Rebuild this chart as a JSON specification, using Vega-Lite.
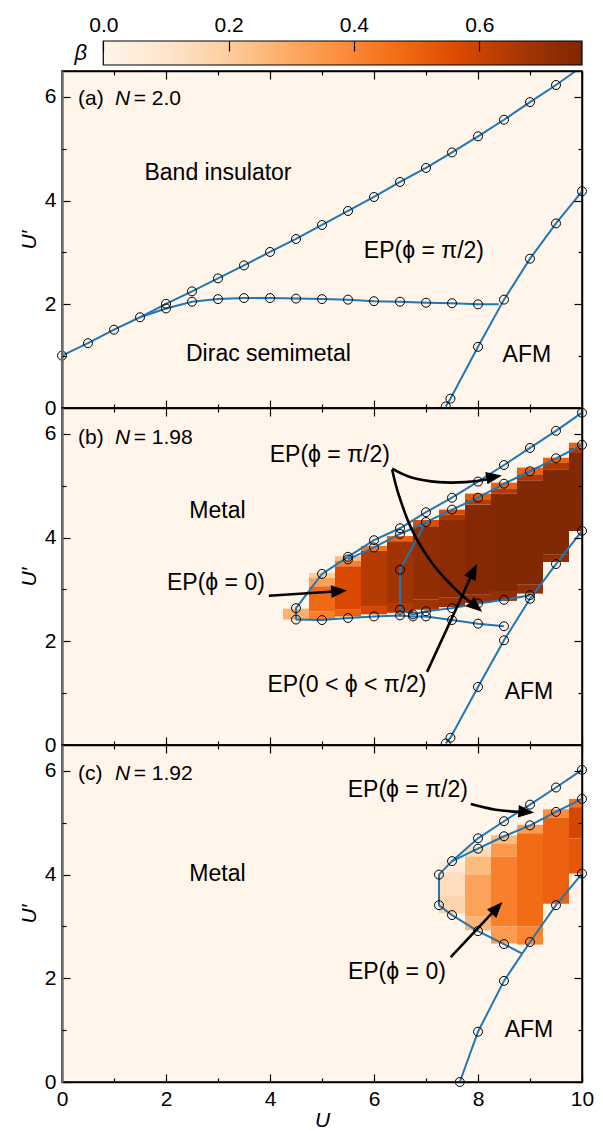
{
"$schema":"https://vega.github.io/schema/vega-lite/v6.json",
"padding":{"left":17,"top":14,"right":5,"bottom":0},
"background":"white",
"config":{"font":"Liberation Sans","text":{"color":"#000"}},
"datasets":{
"cbar":[{"lo":0,"hi":0.764,"b":0,"t":1}],
"cbarLabel":[{"t":"β","x":-0.036,"y":0.5}],
"lines":[
{"p":"a","s":"a1","k":0,"u":0,"v":1.01,"m":1},{"p":"a","s":"a1","k":1,"u":0.5,"v":1.25,"m":1},{"p":"a","s":"a1","k":2,"u":1,"v":1.51,"m":1},{"p":"a","s":"a1","k":3,"u":1.5,"v":1.75,"m":1},{"p":"a","s":"a1","k":4,"u":2,"v":2.01,"m":1},{"p":"a","s":"a1","k":5,"u":2.5,"v":2.25,"m":1},{"p":"a","s":"a1","k":6,"u":3,"v":2.5,"m":1},{"p":"a","s":"a1","k":7,"u":3.5,"v":2.75,"m":1},{"p":"a","s":"a1","k":8,"u":4,"v":3.01,"m":1},{"p":"a","s":"a1","k":9,"u":4.5,"v":3.26,"m":1},{"p":"a","s":"a1","k":10,"u":5,"v":3.53,"m":1},{"p":"a","s":"a1","k":11,"u":5.5,"v":3.8,"m":1},{"p":"a","s":"a1","k":12,"u":6,"v":4.07,"m":1},{"p":"a","s":"a1","k":13,"u":6.5,"v":4.36,"m":1},{"p":"a","s":"a1","k":14,"u":7,"v":4.63,"m":1},{"p":"a","s":"a1","k":15,"u":7.5,"v":4.93,"m":1},{"p":"a","s":"a1","k":16,"u":8,"v":5.24,"m":1},{"p":"a","s":"a1","k":17,"u":8.5,"v":5.56,"m":1},{"p":"a","s":"a1","k":18,"u":9,"v":5.9,"m":1},{"p":"a","s":"a1","k":19,"u":9.5,"v":6.23,"m":1},{"p":"a","s":"a1","k":20,"u":9.88,"v":6.5,"m":0},
{"p":"a","s":"a2","k":0,"u":1.5,"v":1.75,"m":0},{"p":"a","s":"a2","k":1,"u":2,"v":1.92,"m":1},{"p":"a","s":"a2","k":2,"u":2.5,"v":2.05,"m":1},{"p":"a","s":"a2","k":3,"u":3,"v":2.1,"m":1},{"p":"a","s":"a2","k":4,"u":3.5,"v":2.12,"m":1},{"p":"a","s":"a2","k":5,"u":4,"v":2.12,"m":1},{"p":"a","s":"a2","k":6,"u":4.5,"v":2.11,"m":1},{"p":"a","s":"a2","k":7,"u":5,"v":2.1,"m":1},{"p":"a","s":"a2","k":8,"u":5.5,"v":2.09,"m":1},{"p":"a","s":"a2","k":9,"u":6,"v":2.06,"m":1},{"p":"a","s":"a2","k":10,"u":6.5,"v":2.05,"m":1},{"p":"a","s":"a2","k":11,"u":7,"v":2.03,"m":1},{"p":"a","s":"a2","k":12,"u":7.5,"v":2.02,"m":1},{"p":"a","s":"a2","k":13,"u":8,"v":2.0,"m":1},{"p":"a","s":"a2","k":14,"u":8.4,"v":2.0,"m":0},
{"p":"a","s":"a3","k":0,"u":7.38,"v":0.03,"m":1},{"p":"a","s":"a3","k":1,"u":7.47,"v":0.18,"m":1},{"p":"a","s":"a3","k":2,"u":8,"v":1.18,"m":1},{"p":"a","s":"a3","k":3,"u":8.5,"v":2.09,"m":1},{"p":"a","s":"a3","k":4,"u":9,"v":2.88,"m":1},{"p":"a","s":"a3","k":5,"u":9.5,"v":3.56,"m":1},{"p":"a","s":"a3","k":6,"u":10,"v":4.18,"m":1},
{"p":"b","s":"b1","k":0,"u":4.5,"v":2.42,"m":1},{"p":"b","s":"b1","k":1,"u":4.5,"v":2.64,"m":1},{"p":"b","s":"b1","k":2,"u":5,"v":3.3,"m":1},{"p":"b","s":"b1","k":3,"u":5.5,"v":3.63,"m":1},{"p":"b","s":"b1","k":4,"u":6,"v":3.95,"m":1},{"p":"b","s":"b1","k":5,"u":6.5,"v":4.18,"m":1},{"p":"b","s":"b1","k":6,"u":7,"v":4.49,"m":1},{"p":"b","s":"b1","k":7,"u":7.5,"v":4.77,"m":1},{"p":"b","s":"b1","k":8,"u":8,"v":5.08,"m":1},{"p":"b","s":"b1","k":9,"u":8.5,"v":5.4,"m":1},{"p":"b","s":"b1","k":10,"u":9,"v":5.73,"m":1},{"p":"b","s":"b1","k":11,"u":9.5,"v":6.06,"m":1},{"p":"b","s":"b1","k":12,"u":10,"v":6.41,"m":1},
{"p":"b","s":"b2","k":0,"u":4.5,"v":2.42,"m":0},{"p":"b","s":"b2","k":1,"u":5,"v":2.41,"m":1},{"p":"b","s":"b2","k":2,"u":5.5,"v":2.45,"m":1},{"p":"b","s":"b2","k":3,"u":6,"v":2.48,"m":1},{"p":"b","s":"b2","k":4,"u":6.5,"v":2.5,"m":1},{"p":"b","s":"b2","k":5,"u":6.75,"v":2.48,"m":1},{"p":"b","s":"b2","k":6,"u":7,"v":2.48,"m":1},{"p":"b","s":"b2","k":7,"u":7.5,"v":2.41,"m":1},{"p":"b","s":"b2","k":8,"u":8,"v":2.34,"m":1},{"p":"b","s":"b2","k":9,"u":8.5,"v":2.29,"m":1},
{"p":"b","s":"b3","k":0,"u":5.5,"v":3.58,"m":1},{"p":"b","s":"b3","k":1,"u":6,"v":3.81,"m":1},{"p":"b","s":"b3","k":2,"u":6.5,"v":4.07,"m":1},{"p":"b","s":"b3","k":3,"u":7,"v":4.3,"m":1},{"p":"b","s":"b3","k":4,"u":7.5,"v":4.54,"m":1},{"p":"b","s":"b3","k":5,"u":8,"v":4.77,"m":1},{"p":"b","s":"b3","k":6,"u":8.5,"v":5.04,"m":1},{"p":"b","s":"b3","k":7,"u":9,"v":5.28,"m":1},{"p":"b","s":"b3","k":8,"u":9.5,"v":5.53,"m":1},{"p":"b","s":"b3","k":9,"u":10,"v":5.79,"m":1},
{"p":"b","s":"b4","k":0,"u":6.5,"v":2.61,"m":1},{"p":"b","s":"b4","k":1,"u":6.5,"v":3.38,"m":1},{"p":"b","s":"b4","k":2,"u":7,"v":4.3,"m":0},
{"p":"b","s":"b5","k":0,"u":6.5,"v":2.61,"m":0},{"p":"b","s":"b5","k":1,"u":6.75,"v":2.52,"m":1},{"p":"b","s":"b5","k":2,"u":7,"v":2.58,"m":1},{"p":"b","s":"b5","k":3,"u":7.5,"v":2.64,"m":1},{"p":"b","s":"b5","k":4,"u":8,"v":2.73,"m":1},{"p":"b","s":"b5","k":5,"u":8.5,"v":2.8,"m":1},{"p":"b","s":"b5","k":6,"u":9,"v":2.89,"m":1},
{"p":"b","s":"b6","k":0,"u":7.38,"v":0.03,"m":1},{"p":"b","s":"b6","k":1,"u":7.47,"v":0.14,"m":1},{"p":"b","s":"b6","k":2,"u":8,"v":1.12,"m":1},{"p":"b","s":"b6","k":3,"u":8.5,"v":2.02,"m":1},{"p":"b","s":"b6","k":4,"u":9,"v":2.82,"m":1},{"p":"b","s":"b6","k":5,"u":9.5,"v":3.49,"m":1},{"p":"b","s":"b6","k":6,"u":10,"v":4.13,"m":1},
{"p":"c","s":"c1","k":0,"u":8.84,"v":2.48,"m":0},{"p":"c","s":"c1","k":1,"u":8.5,"v":2.66,"m":1},{"p":"c","s":"c1","k":2,"u":8,"v":2.91,"m":1},{"p":"c","s":"c1","k":3,"u":7.5,"v":3.22,"m":1},{"p":"c","s":"c1","k":4,"u":7.25,"v":3.41,"m":1},{"p":"c","s":"c1","k":5,"u":7.25,"v":4.0,"m":1},{"p":"c","s":"c1","k":6,"u":7.5,"v":4.26,"m":1},{"p":"c","s":"c1","k":7,"u":8,"v":4.7,"m":1},{"p":"c","s":"c1","k":8,"u":8.5,"v":5.03,"m":1},{"p":"c","s":"c1","k":9,"u":9,"v":5.35,"m":1},{"p":"c","s":"c1","k":10,"u":9.5,"v":5.68,"m":1},{"p":"c","s":"c1","k":11,"u":10,"v":6.02,"m":1},
{"p":"c","s":"c2","k":0,"u":7.5,"v":4.26,"m":0},{"p":"c","s":"c2","k":1,"u":8,"v":4.5,"m":1},{"p":"c","s":"c2","k":2,"u":8.5,"v":4.74,"m":1},{"p":"c","s":"c2","k":3,"u":9,"v":4.95,"m":1},{"p":"c","s":"c2","k":4,"u":9.5,"v":5.21,"m":1},{"p":"c","s":"c2","k":5,"u":10,"v":5.46,"m":1},
{"p":"c","s":"c3","k":0,"u":7.65,"v":0,"m":1},{"p":"c","s":"c3","k":1,"u":8,"v":0.97,"m":1},{"p":"c","s":"c3","k":2,"u":8.5,"v":1.95,"m":1},{"p":"c","s":"c3","k":3,"u":9,"v":2.7,"m":1},{"p":"c","s":"c3","k":4,"u":9.5,"v":3.41,"m":1},{"p":"c","s":"c3","k":5,"u":10,"v":4.02,"m":1}
],
"heat":[
{"p":"b","u0":4.25,"u1":4.75,"lo":2.42,"hi":2.63,"beta":0.28},
{"p":"b","u0":4.75,"u1":5.25,"lo":3.22,"hi":3.32,"beta":0.2},{"p":"b","u0":4.75,"u1":5.25,"lo":3.06,"hi":3.22,"beta":0.33},{"p":"b","u0":4.75,"u1":5.25,"lo":2.58,"hi":3.06,"beta":0.48},{"p":"b","u0":4.75,"u1":5.25,"lo":2.42,"hi":2.58,"beta":0.42},
{"p":"b","u0":5.25,"u1":5.75,"lo":3.55,"hi":3.64,"beta":0.25},{"p":"b","u0":5.25,"u1":5.75,"lo":3.45,"hi":3.55,"beta":0.42},{"p":"b","u0":5.25,"u1":5.75,"lo":2.62,"hi":3.45,"beta":0.57},{"p":"b","u0":5.25,"u1":5.75,"lo":2.48,"hi":2.62,"beta":0.5},
{"p":"b","u0":5.75,"u1":6.25,"lo":3.74,"hi":3.84,"beta":0.44},{"p":"b","u0":5.75,"u1":6.25,"lo":2.68,"hi":3.74,"beta":0.64},{"p":"b","u0":5.75,"u1":6.25,"lo":2.52,"hi":2.68,"beta":0.58},
{"p":"b","u0":6.25,"u1":6.75,"lo":3.93,"hi":4.03,"beta":0.5},{"p":"b","u0":6.25,"u1":6.75,"lo":2.74,"hi":3.93,"beta":0.68},{"p":"b","u0":6.25,"u1":6.75,"lo":2.55,"hi":2.74,"beta":0.64},
{"p":"b","u0":6.75,"u1":7.25,"lo":4.22,"hi":4.34,"beta":0.56},{"p":"b","u0":6.75,"u1":7.25,"lo":2.8,"hi":4.22,"beta":0.72},{"p":"b","u0":6.75,"u1":7.25,"lo":2.61,"hi":2.8,"beta":0.68},
{"p":"b","u0":7.25,"u1":7.75,"lo":4.44,"hi":4.54,"beta":0.56},{"p":"b","u0":7.25,"u1":7.75,"lo":4.34,"hi":4.44,"beta":0.66},{"p":"b","u0":7.25,"u1":7.75,"lo":2.84,"hi":4.34,"beta":0.73},{"p":"b","u0":7.25,"u1":7.75,"lo":2.66,"hi":2.84,"beta":0.7},
{"p":"b","u0":7.75,"u1":8.25,"lo":4.74,"hi":4.85,"beta":0.52},{"p":"b","u0":7.75,"u1":8.25,"lo":4.64,"hi":4.74,"beta":0.64},{"p":"b","u0":7.75,"u1":8.25,"lo":2.9,"hi":4.64,"beta":0.75},{"p":"b","u0":7.75,"u1":8.25,"lo":2.74,"hi":2.9,"beta":0.7},
{"p":"b","u0":8.25,"u1":8.75,"lo":4.95,"hi":5.06,"beta":0.5},{"p":"b","u0":8.25,"u1":8.75,"lo":4.85,"hi":4.95,"beta":0.64},{"p":"b","u0":8.25,"u1":8.75,"lo":2.97,"hi":4.85,"beta":0.76},{"p":"b","u0":8.25,"u1":8.75,"lo":2.78,"hi":2.97,"beta":0.71},
{"p":"b","u0":8.75,"u1":9.25,"lo":5.22,"hi":5.35,"beta":0.5},{"p":"b","u0":8.75,"u1":9.25,"lo":5.1,"hi":5.22,"beta":0.65},{"p":"b","u0":8.75,"u1":9.25,"lo":3.09,"hi":5.1,"beta":0.76},{"p":"b","u0":8.75,"u1":9.25,"lo":2.92,"hi":3.09,"beta":0.71},
{"p":"b","u0":9.25,"u1":9.75,"lo":5.44,"hi":5.54,"beta":0.5},{"p":"b","u0":9.25,"u1":9.75,"lo":5.32,"hi":5.44,"beta":0.65},{"p":"b","u0":9.25,"u1":9.75,"lo":3.67,"hi":5.32,"beta":0.76},{"p":"b","u0":9.25,"u1":9.75,"lo":3.53,"hi":3.67,"beta":0.72},
{"p":"b","u0":9.75,"u1":10,"lo":5.73,"hi":5.83,"beta":0.5},{"p":"b","u0":9.75,"u1":10,"lo":5.63,"hi":5.73,"beta":0.65},{"p":"b","u0":9.75,"u1":10,"lo":4.13,"hi":5.63,"beta":0.76},
{"p":"c","u0":7.25,"u1":7.75,"lo":4.05,"hi":4.25,"beta":0.07},{"p":"c","u0":7.25,"u1":7.75,"lo":3.6,"hi":4.05,"beta":0.13},{"p":"c","u0":7.25,"u1":7.75,"lo":3.25,"hi":3.6,"beta":0.17},
{"p":"c","u0":7.75,"u1":8.25,"lo":4.35,"hi":4.54,"beta":0.14},{"p":"c","u0":7.75,"u1":8.25,"lo":4.0,"hi":4.35,"beta":0.25},{"p":"c","u0":7.75,"u1":8.25,"lo":3.2,"hi":4.0,"beta":0.32},{"p":"c","u0":7.75,"u1":8.25,"lo":2.93,"hi":3.2,"beta":0.27},
{"p":"c","u0":8.25,"u1":8.75,"lo":4.6,"hi":4.76,"beta":0.25},{"p":"c","u0":8.25,"u1":8.75,"lo":4.35,"hi":4.6,"beta":0.35},{"p":"c","u0":8.25,"u1":8.75,"lo":3.0,"hi":4.35,"beta":0.42},{"p":"c","u0":8.25,"u1":8.75,"lo":2.67,"hi":3.0,"beta":0.34},
{"p":"c","u0":8.75,"u1":9.25,"lo":4.8,"hi":4.96,"beta":0.34},{"p":"c","u0":8.75,"u1":9.25,"lo":3.0,"hi":4.8,"beta":0.47},{"p":"c","u0":8.75,"u1":9.25,"lo":2.65,"hi":3.0,"beta":0.4},
{"p":"c","u0":9.25,"u1":9.75,"lo":5.1,"hi":5.26,"beta":0.38},{"p":"c","u0":9.25,"u1":9.75,"lo":3.44,"hi":5.1,"beta":0.5},
{"p":"c","u0":9.75,"u1":10,"lo":5.3,"hi":5.46,"beta":0.45},{"p":"c","u0":9.75,"u1":10,"lo":4.7,"hi":5.3,"beta":0.58},{"p":"c","u0":9.75,"u1":10,"lo":4.02,"hi":4.7,"beta":0.53}
],
"arrows":[
{"p":"b","s":"bA","k":0,"u":6.35,"v":5.33},{"p":"b","s":"bA","k":1,"u":6.72,"v":5.16},{"p":"b","s":"bA","k":2,"u":7.25,"v":5.07},{"p":"b","s":"bA","k":3,"u":7.76,"v":5.07},{"p":"b","s":"bA","k":4,"u":8.22,"v":5.13},
{"p":"b","s":"bB","k":0,"u":6.35,"v":5.31},{"p":"b","s":"bB","k":1,"u":6.48,"v":4.81},{"p":"b","s":"bB","k":2,"u":6.73,"v":4.15},{"p":"b","s":"bB","k":3,"u":7.115,"v":3.51},{"p":"b","s":"bB","k":4,"u":7.54,"v":3.03},{"p":"b","s":"bB","k":5,"u":7.87,"v":2.74},
{"p":"b","s":"bF","k":0,"u":3.98,"v":2.88},{"p":"b","s":"bF","k":1,"u":5.23,"v":2.96},
{"p":"b","s":"bM","k":0,"u":7.02,"v":1.41},{"p":"b","s":"bM","k":1,"u":7.87,"v":3.26},
{"p":"c","s":"cA","k":0,"u":7.86,"v":5.36},{"p":"c","s":"cA","k":1,"u":8.34,"v":5.25},{"p":"c","s":"cA","k":2,"u":8.8,"v":5.21},
{"p":"c","s":"cF","k":0,"u":7.475,"v":2.41},{"p":"c","s":"cF","k":1,"u":8.31,"v":3.3}
],
"tips":[
{"s":"bA","u":8.46,"v":5.2},{"s":"bB","u":8.08,"v":2.57},{"s":"bF","u":5.48,"v":2.98},{"s":"bM","u":7.98,"v":3.49},{"s":"cA","u":9.08,"v":5.2},{"s":"cF","u":8.47,"v":3.47}
],
"regions":[
{"p":"a","t":"Band insulator","u":3.0,"v":4.53},{"p":"a","t":"EP(ϕ = π/2)","u":6.96,"v":3.02},{"p":"a","t":"Dirac semimetal","u":3.97,"v":1.04},{"p":"a","t":"AFM","u":8.94,"v":1.03},
{"p":"b","t":"Metal","u":2.99,"v":4.51},{"p":"b","t":"EP(ϕ = π/2)","u":5.15,"v":5.59},{"p":"b","t":"EP(ϕ = 0)","u":2.96,"v":3.12},{"p":"b","t":"EP(0 < ϕ < π/2)","u":5.48,"v":1.16},{"p":"b","t":"AFM","u":8.98,"v":1.02},
{"p":"c","t":"Metal","u":2.99,"v":4.02},{"p":"c","t":"EP(ϕ = π/2)","u":6.65,"v":5.63},{"p":"c","t":"EP(ϕ = 0)","u":6.44,"v":2.12},{"p":"c","t":"AFM","u":8.98,"v":1.0}
],
"tags":[
{"p":"a","t":"(a)","u":0.31,"v":5.96},{"p":"a","t":"N","u":1.02,"v":5.96},{"p":"a","t":"= 2.0","u":1.38,"v":5.96},
{"p":"b","t":"(b)","u":0.31,"v":5.93},{"p":"b","t":"N","u":1.02,"v":5.93},{"p":"b","t":"= 1.98","u":1.38,"v":5.93},
{"p":"c","t":"(c)","u":0.31,"v":5.95},{"p":"c","t":"N","u":1.02,"v":5.95},{"p":"c","t":"= 1.92","u":1.38,"v":5.95}
]
},
"spacing":6,
"bounds":"flush",
"vconcat":[
{
"width":520,"height":24,
"view":{"stroke":null,"fill":null},
"resolve":{"axis":{"x":"independent","y":"independent"}},
"layer":[
{"data":{"name":"cbar"},
"mark":{"type":"rect","color":{"gradient":"linear","x1":0,"y1":0,"x2":1,"y2":0,"stops":[{"offset":0,"color":"#fff5eb"},{"offset":0.125,"color":"#fee6ce"},{"offset":0.25,"color":"#fdd0a2"},{"offset":0.375,"color":"#fdae6b"},{"offset":0.5,"color":"#fd8d3c"},{"offset":0.625,"color":"#f16913"},{"offset":0.75,"color":"#d94801"},{"offset":0.875,"color":"#a63603"},{"offset":1,"color":"#7f2704"}]},"stroke":"#000","strokeWidth":1.2},
"encoding":{
"x":{"field":"lo","type":"quantitative","scale":{"domain":[-0.0659,0.764],"nice":false,"zero":false},"axis":{"orient":"top","values":[0,0.2,0.4,0.6],"format":".1f","tickSize":-10,"tickWidth":1.2,"tickColor":"#000","labelFontSize":21,"labelColor":"#000","labelPadding":16,"labelFlush":false,"domain":false,"grid":false,"title":null,"zindex":1}},
"x2":{"field":"hi"},
"y":{"field":"b","type":"quantitative","scale":{"domain":[0,1],"nice":false,"zero":false},"axis":null},
"y2":{"field":"t"}}},
{"data":{"name":"cbarLabel"},
"mark":{"type":"text","fontSize":22,"fontStyle":"italic","align":"center","baseline":"middle","color":"#000"},
"encoding":{
"x":{"field":"x","type":"quantitative","scale":{"domain":[-0.0659,0.764],"nice":false,"zero":false},"axis":null},
"y":{"field":"y","type":"quantitative","scale":{"domain":[0,1],"nice":false,"zero":false},"axis":null},
"text":{"field":"t"}}}
]
},
{
"spacing":0,
"bounds":"flush",
"vconcat":[
{
"width":520,"height":337,
"view":{"fill":"#fff5eb","stroke":"#000","strokeWidth":1.5},
"resolve":{"axis":{"x":"independent","y":"independent"}},
"layer":[
{"data":{"name":"lines"},"mark":{"type":"point","opacity":0},"encoding":{
"x":{"field":"u","type":"quantitative","scale":{"domain":[0,10],"nice":false,"zero":false},"axis":{"orient":"bottom","values":[0,2,4,6,8,10],"tickSize":-8,"tickWidth":1.2,"tickColor":"#000","labels":false,"domain":true,"domainColor":"#000","domainWidth":1.5,"grid":false,"title":null,"zindex":1}},
"y":{"field":"v","type":"quantitative","scale":{"domain":[0,6.5],"nice":false,"zero":false},"axis":{"orient":"left","values":[0,2,4,6],"tickSize":-8,"tickWidth":1.2,"tickColor":"#000","labels":true,"labelFontSize":21,"labelColor":"#000","labelPadding":14,"domain":true,"domainColor":"#707070","domainWidth":2.5,"grid":false,"title":"U′","titleFontSize":21,"titleFontStyle":"italic","titleFontWeight":"normal","titleColor":"#000","titlePadding":5,"zindex":1}}}},
{"data":{"name":"lines"},"mark":{"type":"point","opacity":0},"encoding":{
"x":{"field":"u","type":"quantitative","scale":{"domain":[0,10],"nice":false,"zero":false},"axis":{"orient":"bottom","values":[1,3,5,7,9],"tickSize":-4,"tickWidth":1.2,"tickColor":"#000","labels":false,"domain":false,"grid":false,"title":null,"zindex":1}},
"y":{"field":"v","type":"quantitative","scale":{"domain":[0,6.5],"nice":false,"zero":false},"axis":{"orient":"left","values":[1,3,5],"tickSize":-4,"tickWidth":1.2,"tickColor":"#000","labels":false,"domain":false,"grid":false,"title":null,"zindex":1}}}},
{"data":{"name":"lines"},"mark":{"type":"point","opacity":0},"encoding":{
"x":{"field":"u","type":"quantitative","scale":{"domain":[0,10],"nice":false,"zero":false},"axis":{"orient":"top","values":[0,2,4,6,8,10],"tickSize":-8,"tickWidth":1.2,"tickColor":"#000","labels":false,"domain":true,"domainColor":"#000","domainWidth":1.5,"grid":false,"title":null,"zindex":1}},
"y":{"field":"v","type":"quantitative","scale":{"domain":[0,6.5],"nice":false,"zero":false},"axis":{"orient":"right","values":[0,2,4,6],"tickSize":-8,"tickWidth":1.2,"tickColor":"#000","labels":false,"domain":true,"domainColor":"#000","domainWidth":1.5,"grid":false,"title":null,"zindex":1}}}},
{"data":{"name":"lines"},"mark":{"type":"point","opacity":0},"encoding":{
"x":{"field":"u","type":"quantitative","scale":{"domain":[0,10],"nice":false,"zero":false},"axis":{"orient":"top","values":[1,3,5,7,9],"tickSize":-4,"tickWidth":1.2,"tickColor":"#000","labels":false,"domain":false,"grid":false,"title":null,"zindex":1}},
"y":{"field":"v","type":"quantitative","scale":{"domain":[0,6.5],"nice":false,"zero":false},"axis":{"orient":"right","values":[1,3,5],"tickSize":-4,"tickWidth":1.2,"tickColor":"#000","labels":false,"domain":false,"grid":false,"title":null,"zindex":1}}}},
{"data":{"name":"lines"},"transform":[{"filter":"datum.p==='a'"}],"mark":{"type":"line","color":"#1f77b4","strokeWidth":2},"encoding":{
"x":{"field":"u","type":"quantitative","scale":{"domain":[0,10],"nice":false,"zero":false},"axis":null},
"y":{"field":"v","type":"quantitative","scale":{"domain":[0,6.5],"nice":false,"zero":false},"axis":null},
"detail":{"field":"s"},"order":{"field":"k","type":"quantitative"}}},
{"data":{"name":"lines"},"transform":[{"filter":"datum.p==='a' && datum.m===1"}],"mark":{"type":"point","shape":"circle","filled":false,"stroke":"#000","strokeWidth":1,"size":80,"opacity":1},"encoding":{
"x":{"field":"u","type":"quantitative","scale":{"domain":[0,10],"nice":false,"zero":false},"axis":null},
"y":{"field":"v","type":"quantitative","scale":{"domain":[0,6.5],"nice":false,"zero":false},"axis":null}}},
{"data":{"name":"regions"},"transform":[{"filter":"datum.p==='a'"}],"mark":{"type":"text","fontSize":23,"align":"center","baseline":"middle","color":"#000"},"encoding":{
"x":{"field":"u","type":"quantitative","scale":{"domain":[0,10],"nice":false,"zero":false},"axis":null},
"y":{"field":"v","type":"quantitative","scale":{"domain":[0,6.5],"nice":false,"zero":false},"axis":null},
"text":{"field":"t"}}},
{"data":{"name":"tags"},"transform":[{"filter":"datum.p==='a' && datum.t!=='N'"}],"mark":{"type":"text","fontSize":21,"align":"left","baseline":"middle","color":"#000"},"encoding":{
"x":{"field":"u","type":"quantitative","scale":{"domain":[0,10],"nice":false,"zero":false},"axis":null},
"y":{"field":"v","type":"quantitative","scale":{"domain":[0,6.5],"nice":false,"zero":false},"axis":null},
"text":{"field":"t"}}},
{"data":{"name":"tags"},"transform":[{"filter":"datum.p==='a' && datum.t==='N'"}],"mark":{"type":"text","fontSize":21,"fontStyle":"italic","align":"left","baseline":"middle","color":"#000"},"encoding":{
"x":{"field":"u","type":"quantitative","scale":{"domain":[0,10],"nice":false,"zero":false},"axis":null},
"y":{"field":"v","type":"quantitative","scale":{"domain":[0,6.5],"nice":false,"zero":false},"axis":null},
"text":{"field":"t"}}}
]
},
{
"width":520,"height":337,
"view":{"fill":"#fff5eb","stroke":"#000","strokeWidth":1.5},
"resolve":{"axis":{"x":"independent","y":"independent"}},
"layer":[
{"data":{"name":"lines"},"mark":{"type":"point","opacity":0},"encoding":{
"x":{"field":"u","type":"quantitative","scale":{"domain":[0,10],"nice":false,"zero":false},"axis":{"orient":"bottom","values":[0,2,4,6,8,10],"tickSize":-8,"tickWidth":1.2,"tickColor":"#000","labels":false,"domain":true,"domainColor":"#000","domainWidth":1.5,"grid":false,"title":null,"zindex":1}},
"y":{"field":"v","type":"quantitative","scale":{"domain":[0,6.5],"nice":false,"zero":false},"axis":{"orient":"left","values":[0,2,4,6],"tickSize":-8,"tickWidth":1.2,"tickColor":"#000","labels":true,"labelFontSize":21,"labelColor":"#000","labelPadding":14,"domain":true,"domainColor":"#707070","domainWidth":2.5,"grid":false,"title":"U′","titleFontSize":21,"titleFontStyle":"italic","titleFontWeight":"normal","titleColor":"#000","titlePadding":5,"zindex":1}}}},
{"data":{"name":"lines"},"mark":{"type":"point","opacity":0},"encoding":{
"x":{"field":"u","type":"quantitative","scale":{"domain":[0,10],"nice":false,"zero":false},"axis":{"orient":"bottom","values":[1,3,5,7,9],"tickSize":-4,"tickWidth":1.2,"tickColor":"#000","labels":false,"domain":false,"grid":false,"title":null,"zindex":1}},
"y":{"field":"v","type":"quantitative","scale":{"domain":[0,6.5],"nice":false,"zero":false},"axis":{"orient":"left","values":[1,3,5],"tickSize":-4,"tickWidth":1.2,"tickColor":"#000","labels":false,"domain":false,"grid":false,"title":null,"zindex":1}}}},
{"data":{"name":"lines"},"mark":{"type":"point","opacity":0},"encoding":{
"x":{"field":"u","type":"quantitative","scale":{"domain":[0,10],"nice":false,"zero":false},"axis":{"orient":"top","values":[0,2,4,6,8,10],"tickSize":-8,"tickWidth":1.2,"tickColor":"#000","labels":false,"domain":true,"domainColor":"#000","domainWidth":1.5,"grid":false,"title":null,"zindex":1}},
"y":{"field":"v","type":"quantitative","scale":{"domain":[0,6.5],"nice":false,"zero":false},"axis":{"orient":"right","values":[0,2,4,6],"tickSize":-8,"tickWidth":1.2,"tickColor":"#000","labels":false,"domain":true,"domainColor":"#000","domainWidth":1.5,"grid":false,"title":null,"zindex":1}}}},
{"data":{"name":"lines"},"mark":{"type":"point","opacity":0},"encoding":{
"x":{"field":"u","type":"quantitative","scale":{"domain":[0,10],"nice":false,"zero":false},"axis":{"orient":"top","values":[1,3,5,7,9],"tickSize":-4,"tickWidth":1.2,"tickColor":"#000","labels":false,"domain":false,"grid":false,"title":null,"zindex":1}},
"y":{"field":"v","type":"quantitative","scale":{"domain":[0,6.5],"nice":false,"zero":false},"axis":{"orient":"right","values":[1,3,5],"tickSize":-4,"tickWidth":1.2,"tickColor":"#000","labels":false,"domain":false,"grid":false,"title":null,"zindex":1}}}},
{"data":{"name":"heat"},"transform":[{"filter":"datum.p==='b'"}],"mark":{"type":"rect","strokeWidth":0},"encoding":{
"x":{"field":"u0","type":"quantitative","scale":{"domain":[0,10],"nice":false,"zero":false},"axis":null},"x2":{"field":"u1"},
"y":{"field":"lo","type":"quantitative","scale":{"domain":[0,6.5],"nice":false,"zero":false},"axis":null},"y2":{"field":"hi"},
"color":{"field":"beta","type":"quantitative","scale":{"domain":[0,0.0955,0.191,0.2865,0.382,0.4775,0.573,0.6685,0.764],"range":["#fff5eb","#fee6ce","#fdd0a2","#fdae6b","#fd8d3c","#f16913","#d94801","#a63603","#7f2704"],"interpolate":"rgb"},"legend":null}}},
{"data":{"name":"lines"},"transform":[{"filter":"datum.p==='b'"}],"mark":{"type":"line","color":"#1f77b4","strokeWidth":2},"encoding":{
"x":{"field":"u","type":"quantitative","scale":{"domain":[0,10],"nice":false,"zero":false},"axis":null},
"y":{"field":"v","type":"quantitative","scale":{"domain":[0,6.5],"nice":false,"zero":false},"axis":null},
"detail":{"field":"s"},"order":{"field":"k","type":"quantitative"}}},
{"data":{"name":"lines"},"transform":[{"filter":"datum.p==='b' && datum.m===1"}],"mark":{"type":"point","shape":"circle","filled":false,"stroke":"#000","strokeWidth":1,"size":80,"opacity":1},"encoding":{
"x":{"field":"u","type":"quantitative","scale":{"domain":[0,10],"nice":false,"zero":false},"axis":null},
"y":{"field":"v","type":"quantitative","scale":{"domain":[0,6.5],"nice":false,"zero":false},"axis":null}}},
{"data":{"name":"arrows"},"transform":[{"filter":"datum.p==='b'"}],"mark":{"type":"line","color":"#000","strokeWidth":2.6,"interpolate":"cardinal"},"encoding":{
"x":{"field":"u","type":"quantitative","scale":{"domain":[0,10],"nice":false,"zero":false},"axis":null},
"y":{"field":"v","type":"quantitative","scale":{"domain":[0,6.5],"nice":false,"zero":false},"axis":null},
"detail":{"field":"s"},"order":{"field":"k","type":"quantitative"}}},
{"data":{"name":"tips"},"transform":[{"filter":"datum.s==='bA'"}],"mark":{"type":"point","shape":"M0,0L-0.4,1L0.4,1Z","filled":true,"color":"#000","size":1000,"angle":80,"opacity":1,"strokeWidth":0},"encoding":{
"x":{"field":"u","type":"quantitative","scale":{"domain":[0,10],"nice":false,"zero":false},"axis":null},
"y":{"field":"v","type":"quantitative","scale":{"domain":[0,6.5],"nice":false,"zero":false},"axis":null}}},
{"data":{"name":"tips"},"transform":[{"filter":"datum.s==='bB'"}],"mark":{"type":"point","shape":"M0,0L-0.4,1L0.4,1Z","filled":true,"color":"#000","size":1000,"angle":130,"opacity":1,"strokeWidth":0},"encoding":{
"x":{"field":"u","type":"quantitative","scale":{"domain":[0,10],"nice":false,"zero":false},"axis":null},
"y":{"field":"v","type":"quantitative","scale":{"domain":[0,6.5],"nice":false,"zero":false},"axis":null}}},
{"data":{"name":"tips"},"transform":[{"filter":"datum.s==='bF'"}],"mark":{"type":"point","shape":"M0,0L-0.4,1L0.4,1Z","filled":true,"color":"#000","size":1000,"angle":86,"opacity":1,"strokeWidth":0},"encoding":{
"x":{"field":"u","type":"quantitative","scale":{"domain":[0,10],"nice":false,"zero":false},"axis":null},
"y":{"field":"v","type":"quantitative","scale":{"domain":[0,6.5],"nice":false,"zero":false},"axis":null}}},
{"data":{"name":"tips"},"transform":[{"filter":"datum.s==='bM'"}],"mark":{"type":"point","shape":"M0,0L-0.4,1L0.4,1Z","filled":true,"color":"#000","size":1000,"angle":26,"opacity":1,"strokeWidth":0},"encoding":{
"x":{"field":"u","type":"quantitative","scale":{"domain":[0,10],"nice":false,"zero":false},"axis":null},
"y":{"field":"v","type":"quantitative","scale":{"domain":[0,6.5],"nice":false,"zero":false},"axis":null}}},
{"data":{"name":"regions"},"transform":[{"filter":"datum.p==='b'"}],"mark":{"type":"text","fontSize":23,"align":"center","baseline":"middle","color":"#000"},"encoding":{
"x":{"field":"u","type":"quantitative","scale":{"domain":[0,10],"nice":false,"zero":false},"axis":null},
"y":{"field":"v","type":"quantitative","scale":{"domain":[0,6.5],"nice":false,"zero":false},"axis":null},
"text":{"field":"t"}}},
{"data":{"name":"tags"},"transform":[{"filter":"datum.p==='b' && datum.t!=='N'"}],"mark":{"type":"text","fontSize":21,"align":"left","baseline":"middle","color":"#000"},"encoding":{
"x":{"field":"u","type":"quantitative","scale":{"domain":[0,10],"nice":false,"zero":false},"axis":null},
"y":{"field":"v","type":"quantitative","scale":{"domain":[0,6.5],"nice":false,"zero":false},"axis":null},
"text":{"field":"t"}}},
{"data":{"name":"tags"},"transform":[{"filter":"datum.p==='b' && datum.t==='N'"}],"mark":{"type":"text","fontSize":21,"fontStyle":"italic","align":"left","baseline":"middle","color":"#000"},"encoding":{
"x":{"field":"u","type":"quantitative","scale":{"domain":[0,10],"nice":false,"zero":false},"axis":null},
"y":{"field":"v","type":"quantitative","scale":{"domain":[0,6.5],"nice":false,"zero":false},"axis":null},
"text":{"field":"t"}}}
]
},
{
"width":520,"height":337,
"view":{"fill":"#fff5eb","stroke":"#000","strokeWidth":1.5},
"resolve":{"axis":{"x":"independent","y":"independent"}},
"layer":[
{"data":{"name":"lines"},"mark":{"type":"point","opacity":0},"encoding":{
"x":{"field":"u","type":"quantitative","scale":{"domain":[0,10],"nice":false,"zero":false},"axis":{"orient":"bottom","values":[0,2,4,6,8,10],"tickSize":-8,"tickWidth":1.2,"tickColor":"#000","labels":true,"labelFontSize":21,"labelColor":"#000","labelPadding":14.5,"labelFlush":false,"domain":true,"domainColor":"#000","domainWidth":1.5,"grid":false,"title":"U","titleFontSize":21,"titleFontStyle":"italic","titleFontWeight":"normal","titleColor":"#000","titlePadding":0,"zindex":1}},
"y":{"field":"v","type":"quantitative","scale":{"domain":[0,6.5],"nice":false,"zero":false},"axis":{"orient":"left","values":[0,2,4,6],"tickSize":-8,"tickWidth":1.2,"tickColor":"#000","labels":true,"labelFontSize":21,"labelColor":"#000","labelPadding":14,"domain":true,"domainColor":"#707070","domainWidth":2.5,"grid":false,"title":"U′","titleFontSize":21,"titleFontStyle":"italic","titleFontWeight":"normal","titleColor":"#000","titlePadding":5,"zindex":1}}}},
{"data":{"name":"lines"},"mark":{"type":"point","opacity":0},"encoding":{
"x":{"field":"u","type":"quantitative","scale":{"domain":[0,10],"nice":false,"zero":false},"axis":{"orient":"bottom","values":[1,3,5,7,9],"tickSize":-4,"tickWidth":1.2,"tickColor":"#000","labels":false,"domain":false,"grid":false,"title":null,"zindex":1}},
"y":{"field":"v","type":"quantitative","scale":{"domain":[0,6.5],"nice":false,"zero":false},"axis":{"orient":"left","values":[1,3,5],"tickSize":-4,"tickWidth":1.2,"tickColor":"#000","labels":false,"domain":false,"grid":false,"title":null,"zindex":1}}}},
{"data":{"name":"lines"},"mark":{"type":"point","opacity":0},"encoding":{
"x":{"field":"u","type":"quantitative","scale":{"domain":[0,10],"nice":false,"zero":false},"axis":{"orient":"top","values":[0,2,4,6,8,10],"tickSize":-8,"tickWidth":1.2,"tickColor":"#000","labels":false,"domain":true,"domainColor":"#000","domainWidth":1.5,"grid":false,"title":null,"zindex":1}},
"y":{"field":"v","type":"quantitative","scale":{"domain":[0,6.5],"nice":false,"zero":false},"axis":{"orient":"right","values":[0,2,4,6],"tickSize":-8,"tickWidth":1.2,"tickColor":"#000","labels":false,"domain":true,"domainColor":"#000","domainWidth":1.5,"grid":false,"title":null,"zindex":1}}}},
{"data":{"name":"lines"},"mark":{"type":"point","opacity":0},"encoding":{
"x":{"field":"u","type":"quantitative","scale":{"domain":[0,10],"nice":false,"zero":false},"axis":{"orient":"top","values":[1,3,5,7,9],"tickSize":-4,"tickWidth":1.2,"tickColor":"#000","labels":false,"domain":false,"grid":false,"title":null,"zindex":1}},
"y":{"field":"v","type":"quantitative","scale":{"domain":[0,6.5],"nice":false,"zero":false},"axis":{"orient":"right","values":[1,3,5],"tickSize":-4,"tickWidth":1.2,"tickColor":"#000","labels":false,"domain":false,"grid":false,"title":null,"zindex":1}}}},
{"data":{"name":"heat"},"transform":[{"filter":"datum.p==='c'"}],"mark":{"type":"rect","strokeWidth":0},"encoding":{
"x":{"field":"u0","type":"quantitative","scale":{"domain":[0,10],"nice":false,"zero":false},"axis":null},"x2":{"field":"u1"},
"y":{"field":"lo","type":"quantitative","scale":{"domain":[0,6.5],"nice":false,"zero":false},"axis":null},"y2":{"field":"hi"},
"color":{"field":"beta","type":"quantitative","scale":{"domain":[0,0.0955,0.191,0.2865,0.382,0.4775,0.573,0.6685,0.764],"range":["#fff5eb","#fee6ce","#fdd0a2","#fdae6b","#fd8d3c","#f16913","#d94801","#a63603","#7f2704"],"interpolate":"rgb"},"legend":null}}},
{"data":{"name":"lines"},"transform":[{"filter":"datum.p==='c'"}],"mark":{"type":"line","color":"#1f77b4","strokeWidth":2},"encoding":{
"x":{"field":"u","type":"quantitative","scale":{"domain":[0,10],"nice":false,"zero":false},"axis":null},
"y":{"field":"v","type":"quantitative","scale":{"domain":[0,6.5],"nice":false,"zero":false},"axis":null},
"detail":{"field":"s"},"order":{"field":"k","type":"quantitative"}}},
{"data":{"name":"lines"},"transform":[{"filter":"datum.p==='c' && datum.m===1"}],"mark":{"type":"point","shape":"circle","filled":false,"stroke":"#000","strokeWidth":1,"size":80,"opacity":1},"encoding":{
"x":{"field":"u","type":"quantitative","scale":{"domain":[0,10],"nice":false,"zero":false},"axis":null},
"y":{"field":"v","type":"quantitative","scale":{"domain":[0,6.5],"nice":false,"zero":false},"axis":null}}},
{"data":{"name":"arrows"},"transform":[{"filter":"datum.p==='c'"}],"mark":{"type":"line","color":"#000","strokeWidth":2.6,"interpolate":"cardinal"},"encoding":{
"x":{"field":"u","type":"quantitative","scale":{"domain":[0,10],"nice":false,"zero":false},"axis":null},
"y":{"field":"v","type":"quantitative","scale":{"domain":[0,6.5],"nice":false,"zero":false},"axis":null},
"detail":{"field":"s"},"order":{"field":"k","type":"quantitative"}}},
{"data":{"name":"tips"},"transform":[{"filter":"datum.s==='cA'"}],"mark":{"type":"point","shape":"M0,0L-0.4,1L0.4,1Z","filled":true,"color":"#000","size":1000,"angle":94,"opacity":1,"strokeWidth":0},"encoding":{
"x":{"field":"u","type":"quantitative","scale":{"domain":[0,10],"nice":false,"zero":false},"axis":null},
"y":{"field":"v","type":"quantitative","scale":{"domain":[0,6.5],"nice":false,"zero":false},"axis":null}}},
{"data":{"name":"tips"},"transform":[{"filter":"datum.s==='cF'"}],"mark":{"type":"point","shape":"M0,0L-0.4,1L0.4,1Z","filled":true,"color":"#000","size":1000,"angle":43,"opacity":1,"strokeWidth":0},"encoding":{
"x":{"field":"u","type":"quantitative","scale":{"domain":[0,10],"nice":false,"zero":false},"axis":null},
"y":{"field":"v","type":"quantitative","scale":{"domain":[0,6.5],"nice":false,"zero":false},"axis":null}}},
{"data":{"name":"regions"},"transform":[{"filter":"datum.p==='c'"}],"mark":{"type":"text","fontSize":23,"align":"center","baseline":"middle","color":"#000"},"encoding":{
"x":{"field":"u","type":"quantitative","scale":{"domain":[0,10],"nice":false,"zero":false},"axis":null},
"y":{"field":"v","type":"quantitative","scale":{"domain":[0,6.5],"nice":false,"zero":false},"axis":null},
"text":{"field":"t"}}},
{"data":{"name":"tags"},"transform":[{"filter":"datum.p==='c' && datum.t!=='N'"}],"mark":{"type":"text","fontSize":21,"align":"left","baseline":"middle","color":"#000"},"encoding":{
"x":{"field":"u","type":"quantitative","scale":{"domain":[0,10],"nice":false,"zero":false},"axis":null},
"y":{"field":"v","type":"quantitative","scale":{"domain":[0,6.5],"nice":false,"zero":false},"axis":null},
"text":{"field":"t"}}},
{"data":{"name":"tags"},"transform":[{"filter":"datum.p==='c' && datum.t==='N'"}],"mark":{"type":"text","fontSize":21,"fontStyle":"italic","align":"left","baseline":"middle","color":"#000"},"encoding":{
"x":{"field":"u","type":"quantitative","scale":{"domain":[0,10],"nice":false,"zero":false},"axis":null},
"y":{"field":"v","type":"quantitative","scale":{"domain":[0,6.5],"nice":false,"zero":false},"axis":null},
"text":{"field":"t"}}}
]
}
]
}
]
}
